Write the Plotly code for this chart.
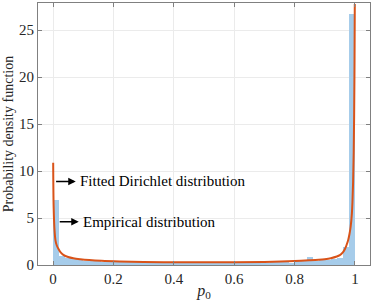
import plotly.graph_objects as go

# Empirical histogram (bin centers, width 0.02)
bin_centers = [0.01 + 0.02 * i for i in range(50)]
bin_heights = [6.9, 1.0, 0.75, 0.6, 0.5, 0.45, 0.4, 0.45, 0.35, 0.4,
               0.3, 0.35, 0.3, 0.35, 0.3, 0.25, 0.3, 0.3, 0.25, 0.3,
               0.25, 0.3, 0.2, 0.3, 0.25, 0.3, 0.2, 0.25, 0.3, 0.2,
               0.25, 0.3, 0.2, 0.25, 0.3, 0.25, 0.3, 0.35, 0.3, 0.15,
               0.4, 0.4, 0.9, 0.45, 0.5, 0.55, 0.6, 0.7, 1.9, 26.7]

# Fitted Dirichlet (marginal) density
fit_x = [0.0003, 0.002, 0.005, 0.008, 0.012, 0.018, 0.025, 0.034, 0.05, 0.067,
         0.09, 0.12, 0.16, 0.22, 0.3, 0.4, 0.5, 0.6, 0.7, 0.8,
         0.85, 0.88, 0.9, 0.92, 0.94, 0.95, 0.96, 0.967, 0.972, 0.978,
         0.982, 0.986, 0.99, 0.992, 0.994, 0.996, 0.9975, 0.9988, 0.9996]
fit_y = [10.9, 6.0, 3.6, 2.6, 2.1, 1.7, 1.35, 1.08, 0.85, 0.72,
         0.62, 0.53, 0.45, 0.38, 0.32, 0.29, 0.28, 0.29, 0.33, 0.42,
         0.5, 0.56, 0.62, 0.72, 0.9, 1.05, 1.35, 1.7, 2.1, 2.7,
         3.3, 4.1, 5.5, 6.8, 8.8, 12.0, 16.0, 22.0, 27.8]

x_ticks = [0, 0.2, 0.4, 0.6, 0.8, 1]
x_tick_labels = ["0", "0.2", "0.4", "0.6", "0.8", "1"]
y_ticks = [0, 5, 10, 15, 20, 25]

fig = go.Figure()
fig.add_trace(go.Bar(x=bin_centers, y=bin_heights, width=0.02,
                     marker=dict(color="#A6CCEA", line=dict(width=0)),
                     showlegend=False))
fig.add_trace(go.Scatter(x=fit_x, y=fit_y, mode="lines",
                         line=dict(color="#D95319", width=2, shape="spline"),
                         showlegend=False))

serif = "Liberation Serif, Times New Roman, serif"

fig.add_annotation(x=0.075, y=8.9, ax=0.005, ay=8.9, xref="x", yref="y",
                   axref="x", ayref="y", text="", showarrow=True,
                   arrowhead=2, arrowsize=1, arrowwidth=1.5, arrowcolor="black")
fig.add_annotation(x=0.081, y=8.9, xref="x", yref="y", text="Fitted Dirichlet distribution",
                   showarrow=False, xanchor="left", yanchor="middle",
                   font=dict(family=serif, size=15, color="black"))
fig.add_annotation(x=0.085, y=4.6, ax=0.017, ay=4.6, xref="x", yref="y",
                   axref="x", ayref="y", text="", showarrow=True,
                   arrowhead=2, arrowsize=1, arrowwidth=1.5, arrowcolor="black")
fig.add_annotation(x=0.091, y=4.6, xref="x", yref="y", text="Empirical distribution",
                   showarrow=False, xanchor="left", yanchor="middle",
                   font=dict(family=serif, size=15, color="black"))

fig.update_layout(
    width=374, height=301,
    margin=dict(l=38, r=4, t=3, b=36, autoexpand=False),
    plot_bgcolor="white", paper_bgcolor="white",
    bargap=0,
    font=dict(family=serif, size=15, color="#262626"),
)
fig.update_xaxes(range=[-0.05, 1.05], tickvals=x_ticks, ticktext=x_tick_labels,
                 automargin=False, tickfont=dict(size=15),
                 showline=True, linecolor="#808080", linewidth=1, mirror="ticks",
                 ticks="inside", ticklen=4, tickcolor="#808080",
                 showgrid=True, gridcolor="#EBEBEB", zeroline=False,
                 title=dict(text="<i>p</i><sub>0</sub>", standoff=0,
                            font=dict(family=serif, size=16)))
fig.update_yaxes(range=[0, 27.9], tickvals=y_ticks,
                 automargin=False, tickfont=dict(size=15),
                 showline=True, linecolor="#808080", linewidth=1, mirror="ticks",
                 ticks="inside", ticklen=4, tickcolor="#808080",
                 showgrid=True, gridcolor="#EBEBEB", zeroline=False,
                 title=dict(text="Probability density function", standoff=2,
                            font=dict(family=serif, size=14)))

fig.write_html("out.html", config={"displayModeBar": False},
               post_script="document.body.style.margin='0';document.body.style.overflow='hidden';")
